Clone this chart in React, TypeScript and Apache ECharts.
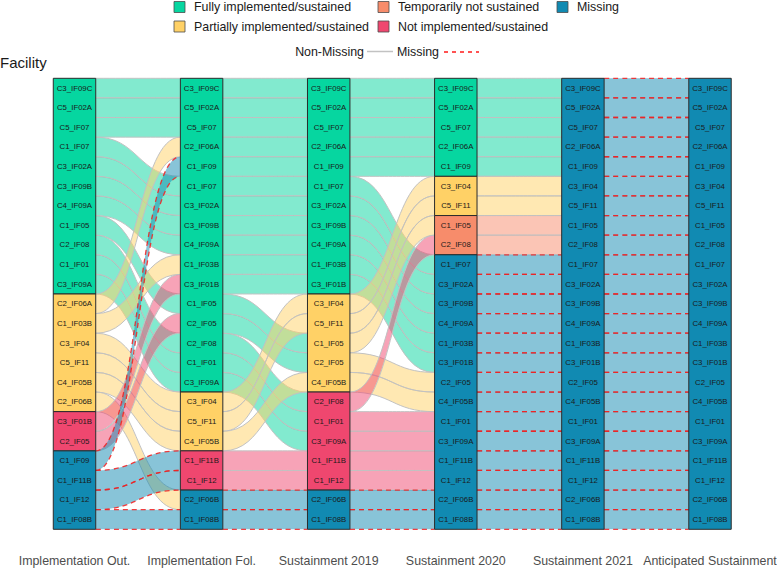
import React, { useEffect, useRef } from "react";
import * as echarts from "echarts";

const FONT = '"Liberation Sans", Arial, Helvetica, sans-serif';

const stages = [
  "Implementation Out.",
  "Implementation Fol.",
  "Sustainment 2019",
  "Sustainment 2020",
  "Sustainment 2021",
  "Anticipated Sustainment",
];

const statusCodes = ["F", "P", "T", "N", "M"];
const statusLabels = [
  "Fully implemented/sustained",
  "Partially implemented/sustained",
  "Temporarily not sustained",
  "Not implemented/sustained",
  "Missing",
];
const statusColors = ["#06D6A0", "#FFD166", "#F78C6B", "#EF476F", "#118AB2"];

// stacking order (top to bottom) and status of every facility at each stage
const implementationOut = [
  ["C3_IF09C", "F"], ["C5_IF02A", "F"], ["C5_IF07", "F"], ["C1_IF07", "F"],
  ["C3_IF02A", "F"], ["C3_IF09B", "F"], ["C4_IF09A", "F"], ["C1_IF05", "F"],
  ["C2_IF08", "F"], ["C1_IF01", "F"], ["C3_IF09A", "F"], ["C2_IF06A", "P"],
  ["C1_IF03B", "P"], ["C3_IF04", "P"], ["C5_IF11", "P"], ["C4_IF05B", "P"],
  ["C2_IF06B", "P"], ["C3_IF01B", "N"], ["C2_IF05", "N"], ["C1_IF09", "M"],
  ["C1_IF11B", "M"], ["C1_IF12", "M"], ["C1_IF08B", "M"],
];
const implementationFol = [
  ["C3_IF09C", "F"], ["C5_IF02A", "F"], ["C5_IF07", "F"], ["C2_IF06A", "F"],
  ["C1_IF09", "F"], ["C1_IF07", "F"], ["C3_IF02A", "F"], ["C3_IF09B", "F"],
  ["C4_IF09A", "F"], ["C1_IF03B", "F"], ["C3_IF01B", "F"], ["C1_IF05", "F"],
  ["C2_IF05", "F"], ["C2_IF08", "F"], ["C1_IF01", "F"], ["C3_IF09A", "F"],
  ["C3_IF04", "P"], ["C5_IF11", "P"], ["C4_IF05B", "P"], ["C1_IF11B", "N"],
  ["C1_IF12", "N"], ["C2_IF06B", "M"], ["C1_IF08B", "M"],
];
const sustainment2019 = [
  ["C3_IF09C", "F"], ["C5_IF02A", "F"], ["C5_IF07", "F"], ["C2_IF06A", "F"],
  ["C1_IF09", "F"], ["C1_IF07", "F"], ["C3_IF02A", "F"], ["C3_IF09B", "F"],
  ["C4_IF09A", "F"], ["C1_IF03B", "F"], ["C3_IF01B", "F"], ["C3_IF04", "P"],
  ["C5_IF11", "P"], ["C1_IF05", "P"], ["C2_IF05", "P"], ["C4_IF05B", "P"],
  ["C2_IF08", "N"], ["C1_IF01", "N"], ["C3_IF09A", "N"], ["C1_IF11B", "N"],
  ["C1_IF12", "N"], ["C2_IF06B", "M"], ["C1_IF08B", "M"],
];
const sustainment2020 = [
  ["C3_IF09C", "F"], ["C5_IF02A", "F"], ["C5_IF07", "F"], ["C2_IF06A", "F"],
  ["C1_IF09", "F"], ["C3_IF04", "P"], ["C5_IF11", "P"], ["C1_IF05", "T"],
  ["C2_IF08", "T"], ["C1_IF07", "M"], ["C3_IF02A", "M"], ["C3_IF09B", "M"],
  ["C4_IF09A", "M"], ["C1_IF03B", "M"], ["C3_IF01B", "M"], ["C2_IF05", "M"],
  ["C4_IF05B", "M"], ["C1_IF01", "M"], ["C3_IF09A", "M"], ["C1_IF11B", "M"],
  ["C1_IF12", "M"], ["C2_IF06B", "M"], ["C1_IF08B", "M"],
];
const sustainment2021 = [
  ["C3_IF09C", "M"], ["C5_IF02A", "M"], ["C5_IF07", "M"], ["C2_IF06A", "M"],
  ["C1_IF09", "M"], ["C3_IF04", "M"], ["C5_IF11", "M"], ["C1_IF05", "M"],
  ["C2_IF08", "M"], ["C1_IF07", "M"], ["C3_IF02A", "M"], ["C3_IF09B", "M"],
  ["C4_IF09A", "M"], ["C1_IF03B", "M"], ["C3_IF01B", "M"], ["C2_IF05", "M"],
  ["C4_IF05B", "M"], ["C1_IF01", "M"], ["C3_IF09A", "M"], ["C1_IF11B", "M"],
  ["C1_IF12", "M"], ["C2_IF06B", "M"], ["C1_IF08B", "M"],
];
const anticipatedSustainment = [
  ["C3_IF09C", "M"], ["C5_IF02A", "M"], ["C5_IF07", "M"], ["C2_IF06A", "M"],
  ["C1_IF09", "M"], ["C3_IF04", "M"], ["C5_IF11", "M"], ["C1_IF05", "M"],
  ["C2_IF08", "M"], ["C1_IF07", "M"], ["C3_IF02A", "M"], ["C3_IF09B", "M"],
  ["C4_IF09A", "M"], ["C1_IF03B", "M"], ["C3_IF01B", "M"], ["C2_IF05", "M"],
  ["C4_IF05B", "M"], ["C1_IF01", "M"], ["C3_IF09A", "M"], ["C1_IF11B", "M"],
  ["C1_IF12", "M"], ["C2_IF06B", "M"], ["C1_IF08B", "M"],
];

const stageColumns = [
  implementationOut,
  implementationFol,
  sustainment2019,
  sustainment2020,
  sustainment2021,
  anticipatedSustainment,
];

const facilities: string[] = sustainment2020.map((d) => d[0]);

function rgba(hex: string, a: number) {
  const n = parseInt(hex.slice(1), 16);
  return `rgba(${(n >> 16) & 255},${(n >> 8) & 255},${n & 255},${a})`;
}

// build series data from the arrays
const flowData: number[][] = [];
for (let g = 0; g < stageColumns.length - 1; g++) {
  const next = stageColumns[g + 1].map((d) => d[0]);
  stageColumns[g].forEach((d, r) => {
    const si = statusCodes.indexOf(d[1]);
    flowData.push([g, r, next.indexOf(d[0]), si, d[1] === "M" ? 1 : 0]);
  });
}
const boxData: number[][] = [];
const labelData: number[][] = [];
stageColumns.forEach((col, s) => {
  let start = 0;
  for (let r = 1; r <= col.length; r++) {
    if (r === col.length || col[r][1] !== col[start][1]) {
      boxData.push([s, start, r, statusCodes.indexOf(col[start][1])]);
      start = r;
    }
  }
  col.forEach((d, r) => labelData.push([s, r, facilities.indexOf(d[0])]));
});

const HW = 0.167;
const K = 0.5;
const GREY = "#c2c2c2";
const RED = "rgba(245,30,30,0.85)";

function flowItem(_params: any, api: any) {
  const g = api.value(0), r0 = api.value(1), r1 = api.value(2), si = api.value(3), miss = api.value(4);
  const a0 = api.coord([g + HW, r0]);
  const a1 = api.coord([g + HW, r0 + 1]);
  const b0 = api.coord([g + 1 - HW, r1]);
  const b1 = api.coord([g + 1 - HW, r1 + 1]);
  const xa = a0[0], xb = b0[0];
  const c1 = xa + (xb - xa) * K, c2 = xb - (xb - xa) * K;
  const top = `M${xa},${a0[1]} C${c1},${a0[1]} ${c2},${b0[1]} ${xb},${b0[1]}`;
  const bot = `M${xa},${a1[1]} C${c1},${a1[1]} ${c2},${b1[1]} ${xb},${b1[1]}`;
  const area = `${top} L${xb},${b1[1]} C${c2},${b1[1]} ${c1},${a1[1]} ${xa},${a1[1]} Z`;
  const ls = miss
    ? { stroke: RED, lineWidth: 1.3, lineDash: [5, 4], fill: "none" }
    : { stroke: GREY, lineWidth: 1, fill: "none" };
  return {
    type: "group",
    children: [
      { type: "path", shape: { pathData: area }, style: { fill: rgba(statusColors[si], 0.5), stroke: "none" } },
      { type: "path", shape: { pathData: top }, style: { ...ls } },
      { type: "path", shape: { pathData: bot }, style: { ...ls } },
    ],
  };
}

function boxItem(_params: any, api: any) {
  const s = api.value(0), r0 = api.value(1), r1 = api.value(2), si = api.value(3);
  const p0 = api.coord([s - HW, r0]);
  const p1 = api.coord([s + HW, r1]);
  return {
    type: "rect",
    shape: { x: p0[0], y: p0[1], width: p1[0] - p0[0], height: p1[1] - p0[1] },
    style: { fill: statusColors[si], stroke: "#2b2b2b", lineWidth: 1 },
  };
}

function labelItem(_params: any, api: any) {
  const s = api.value(0), r = api.value(1), fi = api.value(2);
  const p = api.coord([s, r + 0.5]);
  return {
    type: "text",
    x: p[0],
    y: p[1],
    style: {
      text: facilities[fi],
      fill: "#1a1a1a",
      fontSize: 7.8,
      fontFamily: FONT,
      align: "center",
      verticalAlign: "middle",
      textAlign: "center",
      textVerticalAlign: "middle",
    },
  };
}

const legendCols = [174, 378, 557];
const legendRows = [7, 26.5];
// column-major placement of the five status keys
const legendSlots = [[0, 0], [0, 1], [1, 0], [1, 1], [2, 0]];

function buildGraphic() {
  const els: any[] = [];
  statusLabels.forEach((lab, i) => {
    const [c, r] = legendSlots[i];
    const x = legendCols[c], y = legendRows[r];
    els.push({
      type: "rect",
      shape: { x, y: y - 5.5, width: 11, height: 11 },
      style: { fill: statusColors[i], stroke: "#4d4d4d", lineWidth: 0.8 },
    });
    els.push({
      type: "text",
      x: x + 20,
      y,
      style: { text: lab, fill: "#1a1a1a", fontSize: 12.4, fontFamily: FONT, verticalAlign: "middle", textVerticalAlign: "middle" },
    });
  });
  els.push({
    type: "text",
    x: 364,
    y: 51.5,
    style: { text: "Non-Missing", fill: "#1a1a1a", fontSize: 12.4, fontFamily: FONT, align: "right", textAlign: "right", verticalAlign: "middle", textVerticalAlign: "middle" },
  });
  els.push({ type: "line", shape: { x1: 367, y1: 51.5, x2: 393, y2: 51.5 }, style: { stroke: GREY, lineWidth: 1.5 } });
  els.push({
    type: "text",
    x: 397,
    y: 51.5,
    style: { text: "Missing", fill: "#1a1a1a", fontSize: 12.4, fontFamily: FONT, verticalAlign: "middle", textVerticalAlign: "middle" },
  });
  els.push({ type: "line", shape: { x1: 444, y1: 52, x2: 479, y2: 52 }, style: { stroke: "#ff1a1a", lineWidth: 1.5, lineDash: [4, 4] } });
  els.push({
    type: "text",
    x: 0,
    y: 62,
    style: { text: "Facility", fill: "#1a1a1a", fontSize: 15, fontFamily: FONT, verticalAlign: "middle", textVerticalAlign: "middle" },
  });
  return els;
}

export default function App() {
  const ref = useRef<HTMLDivElement>(null);
  useEffect(() => {
    const chart = echarts.init(ref.current!, null, { renderer: "svg" });
    chart.setOption({
      animation: false,
      backgroundColor: "#ffffff",
      textStyle: { fontFamily: FONT },
      grid: { left: 74.5, top: 78.3, width: 635.5, height: 451, outerBoundsMode: "none" },
      xAxis: {
        type: "value",
        min: 0,
        max: stages.length - 1,
        interval: 1,
        axisLine: { show: false },
        axisTick: { show: false },
        splitLine: { show: false },
        axisLabel: {
          formatter: (v: number) => stages[Math.round(v)] ?? "",
          margin: 26,
          fontSize: 12.4,
          color: "#4d4d4d",
          fontFamily: FONT,
        },
      },
      yAxis: { type: "value", min: 0, max: facilities.length, inverse: true, show: false },
      graphic: buildGraphic(),
      series: [
        { type: "custom", name: "flows", renderItem: flowItem, data: flowData, z: 1, silent: true },
        { type: "custom", name: "strata", renderItem: boxItem, data: boxData, z: 2, silent: true },
        { type: "custom", name: "labels", renderItem: labelItem, data: labelData, z: 3, silent: true },
      ],
    });
    return () => chart.dispose();
  }, []);
  return <div ref={ref} style={{ position: "absolute", left: 0, top: 0, width: 777, height: 571 }} />;
}
